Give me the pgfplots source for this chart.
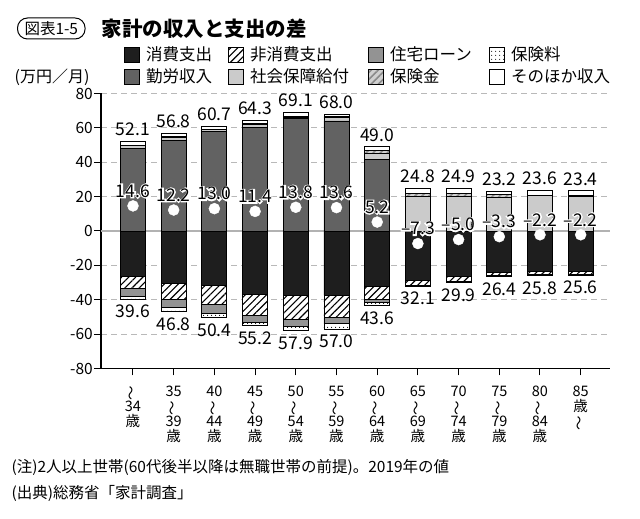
\documentclass[border=0pt]{standalone}
\usepackage{pgfplots}
\pgfplotsset{compat=1.18}
\usepackage{pgfplotstable}
\usepackage{fontspec}
\setmainfont{Noto Sans CJK JP}
\usepackage{graphicx}
\usetikzlibrary{patterns,patterns.meta}
\definecolor{cblack}{HTML}{1E1E1E}
\definecolor{cwork}{HTML}{626262}
\definecolor{cloan}{HTML}{939393}
\definecolor{csoc}{HTML}{CBCBCB}
\definecolor{cinsb}{HTML}{D0D0D0}
\definecolor{cinsl}{HTML}{8A8A8A}

\pgfplotstableread{
x cons noncons loan prem work soc ins other
0 -26.2 -7.5 -4.1 -1.8 47.8 1.9 0.3 2.1
1 -30.7 -8.9 -4.6 -2.6 52.7 1.8 0.3 2.0
2 -31.7 -11.3 -4.8 -2.6 57.9 1.0 0.3 1.5
3 -37.0 -11.9 -4.2 -2.1 60.5 1.5 0.5 1.8
4 -37.5 -13.9 -4.3 -2.2 65.5 0.8 0.3 2.5
5 -37.3 -13.1 -3.6 -3.0 64.0 2.0 0.5 1.5
6 -32.1 -7.9 -1.6 -2.0 41.7 3.6 1.6 2.1
7 -28.5 -3.3 0 -0.3 0 20.2 1.8 2.8
8 -26.6 -3.0 0 -0.3 0 20.3 1.8 2.8
9 -24.0 -2.1 0 -0.3 0 19.8 1.2 2.2
10 -23.5 -2.0 0 -0.3 0 20.4 0.3 2.9
11 -23.3 -2.0 0 -0.3 0 20.2 0.3 2.9
}\bardata

\pgfplotstableread{
x inc exp diff dlab
0 52.1 39.6 14.6 14.6
1 56.8 46.8 12.2 12.2
2 60.7 50.4 13.0 13.0
3 64.3 55.2 11.4 11.4
4 69.1 57.9 13.8 13.8
5 68.0 57.0 13.6 13.6
6 49.0 43.6 5.2 5.2
7 24.8 32.1 -7.3 –7.3
8 24.9 29.9 -5.0 –5.0
9 23.2 26.4 -3.3 –3.3
10 23.6 25.8 -2.2 –2.2
11 23.4 25.6 -2.2 –2.2
}\labdata

\newcommand{\rw}[1]{\raisebox{0pt}[11pt][3.5pt]{#1}}
\newcommand{\wv}{\rw{\rotatebox[origin=c]{90}{〜}}}
\newcommand{\olab}[1]{\rlap{\color{white}\addfontfeature{FakeBold=14}#1}#1}

\pgfplotsset{
  geom/.style={at={(101pt,150.5pt)}, anchor=south west, scale only axis,
    width=509pt, height=275pt, xmin=-0.786, xmax=11.72, ymin=-80, ymax=80},
  bstyle/.style={draw=black, line width=0.9pt},
  sCons/.style={bstyle, fill=cblack},
  sNon/.style={bstyle, fill=white, postaction={pattern={Lines[angle=45,distance=5pt,line width=1.1pt]}, pattern color=black}},
  sLoan/.style={bstyle, fill=cloan},
  sPrem/.style={bstyle, fill=white, postaction={pattern={Dots[distance=4pt,radius=0.65pt]}, pattern color=black}},
  sWork/.style={bstyle, fill=cwork},
  sSoc/.style={bstyle, fill=csoc},
  sIns/.style={bstyle, fill=cinsb, postaction={pattern={Lines[angle=45,distance=5pt,line width=1.6pt]}, pattern color=cinsl}},
  sOther/.style={bstyle, fill=white},
  mysq/.style={legend image code/.code={\draw[##1, line width=1pt] (0pt,-1.5pt) rectangle (15pt,13.5pt);}},
}

\begin{document}
\begin{tikzpicture}
\path[use as bounding box] (0pt,0pt) rectangle (640pt,519pt);

% negative stack with axis frame
\begin{axis}[geom,
  ybar stacked, bar width=25pt,
  axis x line*=bottom, axis y line*=left,
  axis line style={line width=1.2pt, black, -},
  ytick={-80,-60,...,80},
  xtick={0,...,11},
  xticklabels={
    {\wv\\\rw{34}\\\rw{歳}},
    {\rw{35}\\\wv\\\rw{39}\\\rw{歳}},
    {\rw{40}\\\wv\\\rw{44}\\\rw{歳}},
    {\rw{45}\\\wv\\\rw{49}\\\rw{歳}},
    {\rw{50}\\\wv\\\rw{54}\\\rw{歳}},
    {\rw{55}\\\wv\\\rw{59}\\\rw{歳}},
    {\rw{60}\\\wv\\\rw{64}\\\rw{歳}},
    {\rw{65}\\\wv\\\rw{69}\\\rw{歳}},
    {\rw{70}\\\wv\\\rw{74}\\\rw{歳}},
    {\rw{75}\\\wv\\\rw{79}\\\rw{歳}},
    {\rw{80}\\\wv\\\rw{84}\\\rw{歳}},
    {\rw{85}\\\rw{歳}\\\wv}},
  tick align=outside, major tick length=7pt,
  tick style={black, line width=1pt},
  /pgf/number format/assume math mode=true,
  yticklabel style={font=\fontsize{15.5}{16}\selectfont, inner sep=1pt},
  xticklabel style={align=center, anchor=north, inner sep=0pt, yshift=-10pt,
     font=\fontsize{14.5}{15}\selectfont},
  ymajorgrids, major grid style={gray!55, line width=0.8pt, dash pattern=on 6pt off 4pt},
  extra y ticks={0}, extra y tick labels={},
  extra y tick style={grid=major, major grid style={solid, gray!60, line width=1.1pt}, major tick length=0pt},
]
\addplot[sCons] table[x=x,y=cons] {\bardata};
\addplot[sNon] table[x=x,y=noncons] {\bardata};
\addplot[sLoan] table[x=x,y=loan] {\bardata};
\addplot[sPrem] table[x=x,y=prem] {\bardata};
\end{axis}

% positive stack
\begin{axis}[geom, hide axis, ybar stacked, bar width=25pt]
\addplot[sWork] table[x=x,y=work] {\bardata};
\addplot[sSoc] table[x=x,y=soc] {\bardata};
\addplot[sIns] table[x=x,y=ins] {\bardata};
\addplot[sOther] table[x=x,y=other] {\bardata};
\end{axis}

% labels, dots, legend
\begin{axis}[geom, hide axis, clip=false,
  legend columns=4,
  legend style={at={(0.045,1.17)}, anchor=north west, draw=none, fill=none,
     inner sep=0pt, column sep=0pt, row sep=6pt,
     font=\fontsize{16.5}{17}\selectfont,
     nodes={inner sep=0pt, anchor=base west},
     /tikz/every odd column/.append style={column sep=6pt}},
  legend cell align=left,
  nodes near coords align=center,
  every node near coord/.append style={font=\fontsize{17.5}{18}\selectfont},
]
\addplot[draw=none, mark=none, forget plot, point meta=explicit,
  nodes near coords={\pgfmathprintnumber[fixed,fixed zerofill,precision=1,assume math mode=true]{\pgfplotspointmeta}},
  every node near coord/.append style={yshift=12pt}]
  table[x=x, y=inc, meta=inc] {\labdata};
\addplot[draw=none, mark=none, forget plot, point meta=explicit,
  nodes near coords={\pgfmathprintnumber[fixed,fixed zerofill,precision=1,assume math mode=true]{\pgfplotspointmeta}},
  every node near coord/.append style={yshift=-12.5pt}]
  table[x=x, y expr=-\thisrow{exp}, meta=exp] {\labdata};
\addplot[only marks, mark=*, mark size=5.5pt, mark options={fill=white, draw=white}, forget plot,
  point meta=explicit symbolic,
  nodes near coords={\olab{\pgfplotspointmeta}},
  every node near coord/.append style={yshift=15pt}]
  table[x=x, y=diff, meta=dlab] {\labdata};

\addlegendimage{mysq, sCons}\addlegendentry{\makebox[82pt][l]{消費支出}}
\addlegendimage{mysq, sNon}\addlegendentry{\makebox[118pt][l]{非消費支出}}
\addlegendimage{mysq, sLoan}\addlegendentry{\makebox[99pt][l]{住宅ローン}}
\addlegendimage{mysq, sPrem}\addlegendentry{保険料}
\addlegendimage{mysq, sWork}\addlegendentry{\makebox[82pt][l]{勤労収入}}
\addlegendimage{mysq, sSoc}\addlegendentry{\makebox[118pt][l]{社会保障給付}}
\addlegendimage{mysq, sIns}\addlegendentry{\makebox[99pt][l]{保険金}}
\addlegendimage{mysq, sOther}\addlegendentry{そのほか収入}
\end{axis}

% title
\node[draw, line width=1pt, rounded corners=10pt, minimum height=21pt, inner xsep=7pt, inner ysep=1pt,
  anchor=west, font=\fontsize{15.5}{16}\selectfont] at (17pt,490.5pt) {図表1-5};
\node[anchor=west, font=\bfseries\fontsize{20.5}{21}\selectfont] at (98pt,490.5pt) {家計の収入と支出の差};
\node[anchor=east, font=\fontsize{16}{16}\selectfont] at (93pt,442pt) {(万円／月)};
% notes
\node[anchor=west, font=\fontsize{15.5}{16}\selectfont] at (8pt,52pt) {(注)2人以上世帯(60代後半以降は無職世帯の前提)。2019年の値};
\node[anchor=west, font=\fontsize{15.5}{16}\selectfont] at (8pt,26pt) {(出典)総務省「家計調査」};
\end{tikzpicture}
\end{document}
